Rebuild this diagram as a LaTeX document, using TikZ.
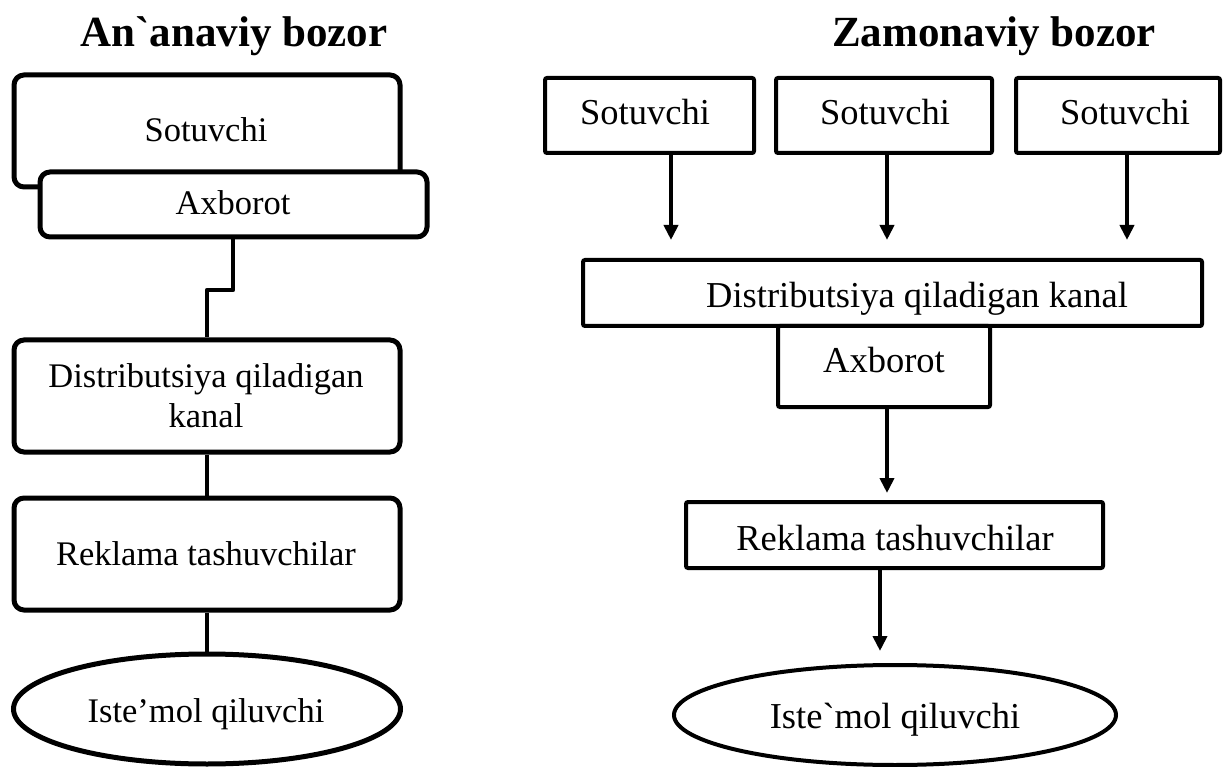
\documentclass[tikz,border=0pt]{standalone}
\usepackage{fontspec}
\setmainfont{Liberation Serif}[Ligatures=TeXOff]
\usetikzlibrary{arrows.meta,shapes.geometric}

\begin{document}
\begin{tikzpicture}[x=1pt,y=-1pt,
  lbox/.style={draw, line width=5pt, rounded corners=10pt, fill=white, inner sep=0pt},
  rbox/.style={draw, line width=4pt, rounded corners=2pt, fill=white, inner sep=0pt},
  lell/.style={draw, ellipse, line width=5pt, fill=white, inner sep=0pt},
  rell/.style={draw, ellipse, line width=4pt, fill=white, inner sep=0pt},
  ltxt/.style={anchor=base, inner sep=0pt, font=\fontsize{34.5}{38}\selectfont},
  txt/.style={anchor=base, inner sep=0pt, font=\fontsize{36.5}{39}\selectfont},
  ttl/.style={anchor=base, inner sep=0pt, font=\fontsize{43}{46}\selectfont\bfseries},
  link/.style={line width=4.5pt, line join=round},
  arr/.style={line width=4pt, -{Triangle[length=15pt,width=14pt]}}]

\useasboundingbox (0,0) rectangle (1224,767);

% ---------- left column: traditional market ----------
\node[ttl] (titleL) at (234,47) {An`anaviy bozor};

\node[lbox, minimum width=386pt, minimum height=112pt] (sellL) at (207,131) {};
\node[lbox, minimum width=387pt, minimum height=65pt] (axL) at (233.5,204.5) {};
\node[lbox, minimum width=386pt, minimum height=112pt] (distL) at (207,396) {};
\node[lbox, minimum width=386pt, minimum height=112pt] (rekL) at (207,554) {};
\node[lell, minimum width=387pt, minimum height=110pt] (consL) at (207,709) {};

\node[ltxt] (tSellL) at (206,142) {Sotuvchi};
\node[ltxt] (tAxL) at (233,215) {Axborot};
\node[ltxt] (tDistL1) at (206,388) {Distributsiya qiladigan};
\node[ltxt] (tDistL2) at (206,427) {kanal};
\node[ltxt] (tRekL) at (206,565) {Reklama tashuvchilar};
\node[ltxt] (tConsL) at (206,722) {Iste’mol qiluvchi};

\coordinate (kinkA) at (233,290);
\coordinate (kinkB) at (207,290);
\draw[link] (axL.south -| kinkA) -- (kinkA) -- (kinkB) -- (distL.north -| kinkB);
\draw[link] (distL.south) -- (rekL.north);
\draw[link] (rekL.south) -- (consL.north);

% ---------- right column: modern market ----------
\node[ttl] (titleR) at (994,47) {Zamonaviy bozor};

\node[rbox, minimum width=209pt, minimum height=75pt] (s1) at (649.5,115.5) {};
\node[rbox, minimum width=216pt, minimum height=75pt] (s2) at (884,115.5) {};
\node[rbox, minimum width=204pt, minimum height=75pt] (s3) at (1118,115.5) {};
\node[rbox, minimum width=619pt, minimum height=66pt] (dist) at (892.5,293) {};
\node[rbox, minimum width=212pt, minimum height=81pt] (ax) at (884,366.5) {};
\node[rbox, minimum width=417pt, minimum height=66pt] (rek) at (894.5,535) {};
\node[rell, minimum width=442pt, minimum height=100pt] (cons) at (895,715) {};

\node[txt] (tS1) at (645,125) {Sotuvchi};
\node[txt] (tS2) at (885,125) {Sotuvchi};
\node[txt] (tS3) at (1125,125) {Sotuvchi};
\node[txt] (tDist) at (917,308) {Distributsiya qiladigan kanal};
\node[txt] (tAx) at (884,373) {Axborot};
\node[txt] (tRek) at (895,550) {Reklama tashuvchilar};
\node[txt] (tCons) at (895,728) {Iste`mol qiluvchi};

\coordinate (c1) at (671,0);
\coordinate (c2) at (887,0);
\coordinate (c3) at (1127,0);
\coordinate (c4) at (887,0);
\coordinate (c5) at (880,0);
\draw[arr, shorten >=18pt] (s1.south -| c1) -- (dist.north -| c1);
\draw[arr, shorten >=18pt] (s2.south -| c2) -- (dist.north -| c2);
\draw[arr, shorten >=18pt] (s3.south -| c3) -- (dist.north -| c3);
\draw[arr, shorten >=7pt] (ax.south -| c4) -- (rek.north -| c4);
\draw[arr, shorten >=12pt] (rek.south -| c5) -- (cons.north -| c5);

\end{tikzpicture}
\end{document}
